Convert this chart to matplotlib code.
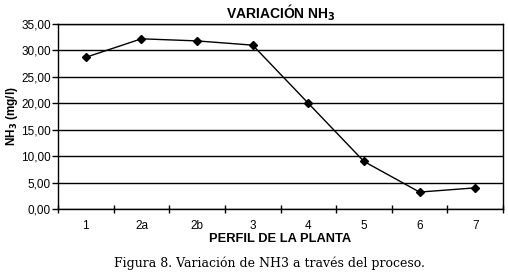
import numpy as np
import matplotlib
matplotlib.use("Agg")
import matplotlib.pyplot as plt
from matplotlib.ticker import FuncFormatter

categories = ["1", "2a", "2b", "3", "4", "5", "6", "7"]
nh3 = [28.7, 32.2, 31.8, 31.0, 20.0, 9.0, 3.2, 4.0]
y_ticks = [0, 5, 10, 15, 20, 25, 30, 35]

plt.rcParams['font.family'] = ['Liberation Sans', 'DejaVu Sans']

fig = plt.figure(figsize=(5.08, 2.76), dpi=100)
ax = fig.add_axes([58 / 508, 67 / 276, 445 / 508, 185 / 276])

x = np.arange(len(categories))
ax.plot(x, nh3, color='black', linewidth=1, marker='D', markersize=4.5,
        markerfacecolor='black', markeredgecolor='black')

ax.set_xlim(-0.5, len(categories) - 0.5)
ax.set_ylim(0, 35)
ax.set_yticks(y_ticks)
ax.yaxis.set_major_formatter(FuncFormatter(lambda v, p: f"{v:.2f}".replace(".", ",")))
ax.set_xticks(x)
ax.set_xticklabels(categories)
ax.set_xticks(np.arange(-0.5, len(categories), 1), minor=True)
ax.tick_params(axis='x', which='major', length=0, pad=8, labelsize=8.5)
ax.tick_params(axis='x', which='minor', length=6, direction='inout', width=1)
ax.tick_params(axis='y', length=4, direction='out', width=1, labelsize=8.5, pad=1)
ax.grid(axis='y', color='black', linewidth=1)
for s in ax.spines.values():
    s.set_linewidth(1)
    s.set_color('black')

ax.set_title("VARIACIÓN NH$_\\mathbf{3}$", fontsize=10, fontweight='bold', pad=4)
ax.set_xlabel("PERFIL DE LA PLANTA", fontsize=9.3, fontweight='bold', labelpad=1)
ax.set_ylabel("NH$_\\mathbf{3}$ (mg/l)", fontsize=8.5, fontweight='bold', labelpad=1)

fig.text(0.53, 0.045, "Figura 8. Variación de NH3 a través del proceso.",
         ha='center', va='center', fontsize=9, family=['DejaVu Serif'])

fig.savefig("out.png", dpi=100)
